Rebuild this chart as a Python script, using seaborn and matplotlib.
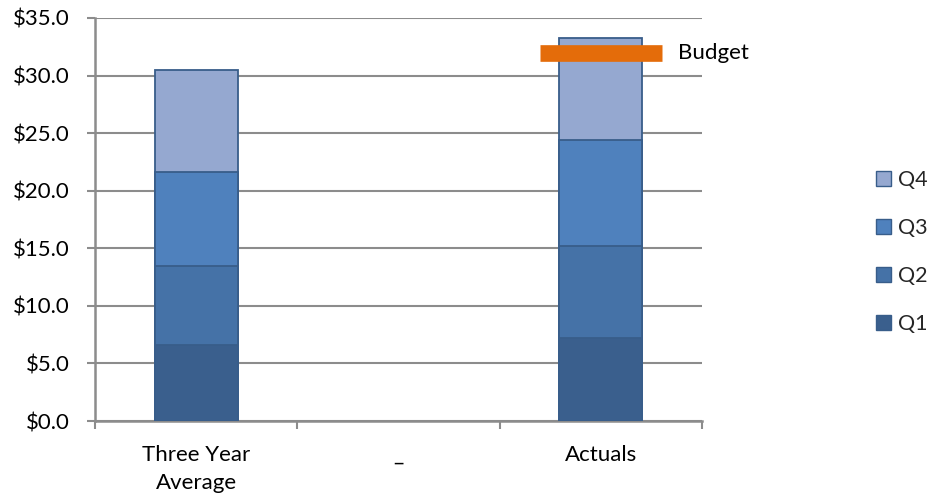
import numpy as np
import pandas as pd
import matplotlib
matplotlib.use("Agg")
import matplotlib.pyplot as plt
from matplotlib.patches import Patch
from matplotlib.ticker import FuncFormatter, FixedLocator
import seaborn as sns

# Quarterly spend, stacked per column
categories = ["Three Year\nAverage", "_", "Actuals"]
quarters = ["Q1", "Q2", "Q3", "Q4"]
q1 = [6.6, np.nan, 7.2]
q2 = [6.9, np.nan, 8.0]
q3 = [8.1, np.nan, 9.2]
q4 = [8.9, np.nan, 8.9]
budget = 32.0
budget_category = "Actuals"

colors = {"Q1": "#3A5F8D", "Q2": "#4572A7", "Q3": "#4F81BD", "Q4": "#95A8D0"}
edge = "#385D8A"
grid_gray = "#8C8C8C"
fs = 16

sns.set_theme(style="white")
plt.rcParams["font.family"] = ["Lato", "DejaVu Sans"]

df = pd.DataFrame({"category": categories, "Q1": q1, "Q2": q2, "Q3": q3, "Q4": q4})
cum = df[quarters].cumsum(axis=1)

fig = plt.figure(figsize=(9.30, 4.99), dpi=100)
ax = fig.add_axes([95 / 930, 78 / 499, 607 / 930, 403 / 499])

# Draw cumulative totals from the top segment down so each layer shows its slice
for q in reversed(quarters):
    sns.barplot(x=df["category"], y=cum[q], order=categories, color=colors[q],
                saturation=1, width=0.41, edgecolor=edge, linewidth=1.3,
                ax=ax, zorder=3)

# Budget marker across the Actuals column
bx = categories.index(budget_category)
ax.plot([bx - 0.30, bx + 0.30], [budget, budget], color="#E46C0A", lw=12,
        solid_capstyle="butt", zorder=5)
ax.text(bx + 0.38, budget, "Budget", va="center", ha="left", fontsize=fs,
        color="black", zorder=6)

ax.set_ylim(0, 35)
ax.set_xlim(-0.5, len(categories) - 0.5)
ax.yaxis.set_major_locator(FixedLocator(np.arange(0, 35.1, 5)))
ax.yaxis.set_major_formatter(FuncFormatter(lambda v, p: f"${v:.1f}"))
ax.grid(axis="y", color=grid_gray, lw=1.5, zorder=0)
ax.grid(axis="x", visible=False)
ax.set_xlabel("")
ax.set_ylabel("")

for s in ["top", "right"]:
    ax.spines[s].set_visible(False)
for s in ["left", "bottom"]:
    ax.spines[s].set_color(grid_gray)
    ax.spines[s].set_linewidth(1.8)

ax.tick_params(axis="y", which="major", left=True, length=6, width=1.5,
               color=grid_gray, labelsize=fs, labelcolor="black", pad=12)
ax.tick_params(axis="x", which="major", bottom=False, labelsize=fs,
               labelcolor="black", pad=11)
ax.xaxis.set_minor_locator(FixedLocator(np.arange(-0.5, len(categories), 1.0)))
ax.tick_params(axis="x", which="minor", bottom=True, length=6, width=1.5,
               color=grid_gray)
ax.set_xticks(range(len(categories)))
ax.set_xticklabels(categories, linespacing=1.5)

handles = [Patch(facecolor=colors[q], edgecolor=edge, linewidth=1.0, label=q)
           for q in reversed(quarters)]
fig.legend(handles=handles, loc="center left", bbox_to_anchor=(876 / 930, 1 - 252 / 499),
           frameon=False, fontsize=fs - 0.5, handlelength=0.7, handleheight=0.7,
           handletextpad=0.3, labelspacing=1.3, borderpad=0, borderaxespad=0)

fig.savefig("out.png", dpi=100)
